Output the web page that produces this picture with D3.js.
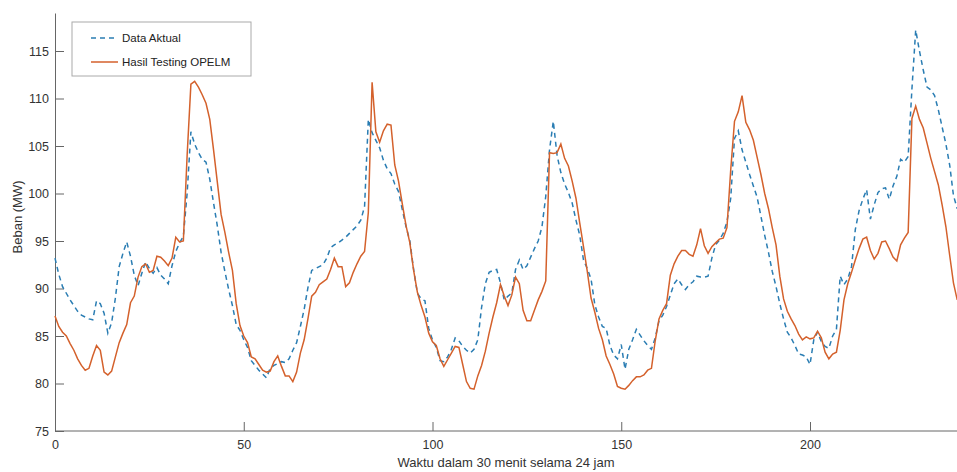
<!DOCTYPE html>
<html>
<head>
<meta charset="utf-8">
<script src="https://cdn.jsdelivr.net/npm/d3@7"></script>
<style>
  body { margin: 0; background: #fff; }
  text { font-family: "Liberation Sans", Arial, sans-serif; }
</style>
</head>
<body>
<div id="chart"></div>
<script>
// data aktual (beban, MW), satu nilai per 30 menit
const aktual = [
  93.2, 91.5, 90.2, 89.5, 88.8, 88.2, 87.6, 87.2, 87.0, 86.8,
  86.7, 88.7, 88.4, 87.4, 85.3, 86.4, 89.0, 92.3, 93.7, 94.9,
  93.4, 91.4, 90.3, 91.6, 92.8, 92.1, 91.6, 92.2, 91.4, 91.0,
  90.5, 92.4, 93.9, 94.8, 95.5, 100.0, 106.5, 105.2, 104.3, 103.6,
  103.3, 101.5, 99.0, 96.6, 93.8, 91.8, 89.9, 88.2, 86.2, 85.6,
  84.6, 83.8, 82.4, 81.9, 81.4, 81.0, 80.6, 81.6, 81.9, 82.1,
  82.3, 82.2, 82.6, 83.5, 84.3, 86.0, 87.8, 90.1, 91.9, 92.1,
  92.3, 92.5, 93.2, 94.3, 94.6, 94.8, 95.1, 95.4, 95.8, 96.2,
  96.6, 97.2, 98.6, 107.8, 106.4, 105.6, 104.8, 103.5, 102.6, 102.1,
  101.0, 100.2, 98.3, 96.5, 95.0, 92.0, 89.5, 88.9, 88.7, 85.8,
  84.6, 83.8, 82.4, 82.3, 82.8, 83.6, 84.8, 84.5, 83.9, 83.5,
  83.2, 83.6, 84.6, 88.0, 90.5, 91.7, 91.9, 92.0, 90.6, 88.8,
  89.2, 89.5, 92.0, 93.0, 92.0, 92.4, 93.3, 94.2, 95.0, 96.5,
  99.7, 104.6, 107.6, 104.0, 102.2, 101.0, 100.1, 99.0, 97.2, 95.6,
  93.0, 92.1, 91.0, 88.3, 87.0, 86.0, 85.8, 84.0, 83.0, 82.6,
  84.1, 81.5, 83.6, 84.6, 85.7, 85.1, 84.5, 84.0, 83.6, 84.8,
  86.6, 87.2, 88.1, 89.3, 90.5, 91.0, 90.4, 89.9, 90.4, 90.7,
  91.3, 91.2, 91.2, 91.3, 93.2, 94.6, 95.1, 95.8, 97.0, 99.5,
  105.8, 106.6, 104.6, 103.3, 102.0, 100.8, 99.6, 97.6, 95.6, 93.8,
  91.8, 90.2, 88.4, 86.8, 85.4, 84.8, 84.0, 83.1, 83.0, 82.8,
  82.0, 84.6, 85.4, 84.4, 83.9, 83.7, 85.0, 85.7, 91.3, 90.4,
  91.0, 92.3, 96.2, 98.2, 99.4, 100.4, 97.3, 98.8, 100.1, 100.5,
  100.6, 99.4, 100.8, 101.8, 103.6, 103.3, 103.9, 111.0, 117.2, 115.0,
  113.0, 111.2, 110.9, 110.3, 108.8, 107.0, 105.2, 103.0, 99.8, 98.4
];

// hasil testing OPELM
const opelm = [
  87.1, 86.0, 85.4, 85.0, 84.2, 83.5, 82.6, 81.9, 81.4, 81.6,
  82.9, 84.0, 83.5, 81.2, 80.9, 81.3, 82.8, 84.3, 85.3, 86.2,
  88.5, 89.2, 91.2, 92.3, 92.6, 91.7, 91.9, 93.4, 93.3, 92.9,
  92.4, 93.2, 95.4, 94.9, 95.0, 104.0, 111.5, 111.8, 111.2, 110.4,
  109.5, 107.8, 104.6, 101.2, 97.8, 95.9, 93.8, 91.9, 88.4, 86.1,
  85.0, 84.3, 82.8, 82.6, 82.0, 81.4, 81.2, 81.3, 82.3, 82.9,
  81.8, 80.8, 80.8, 80.2, 81.2, 83.2, 84.6, 86.8, 89.2, 89.6,
  90.4, 90.7, 91.0, 92.0, 93.2, 92.3, 92.3, 90.2, 90.6, 91.7,
  92.6, 93.4, 93.9, 98.0, 111.7, 106.5, 105.4, 106.6, 107.3, 107.2,
  103.0, 101.3, 98.9, 96.6, 94.8, 91.9, 89.6, 88.2, 87.0, 85.3,
  84.4, 84.0, 82.6, 81.8, 82.5, 83.2, 83.9, 83.8, 82.0, 80.2,
  79.5, 79.4, 80.8, 81.9, 83.4, 85.3, 87.0, 88.5, 90.4, 89.2,
  88.2, 89.3, 91.2, 90.5, 87.7, 86.6, 86.6, 87.7, 88.8, 89.7,
  90.8, 104.3, 104.2, 104.3, 105.2, 103.7, 102.9, 101.3, 99.5, 96.9,
  94.4, 91.8, 89.0, 87.5, 85.8, 84.6, 82.9, 82.0, 81.0, 79.7,
  79.5, 79.4, 79.8, 80.3, 80.7, 80.7, 80.9, 81.4, 81.6, 84.5,
  86.8, 87.7, 88.4, 91.4, 92.6, 93.4, 94.0, 94.0, 93.6, 93.4,
  94.6, 96.3, 94.5, 93.7, 94.4, 94.8, 95.2, 95.3, 96.4, 102.5,
  107.6, 108.6, 110.3, 107.5, 106.7, 105.6, 103.8, 102.0, 100.0, 98.4,
  96.4, 94.6, 91.3, 88.9, 87.6, 86.8, 86.1, 85.2, 84.6, 84.9,
  84.7, 84.8, 85.5, 84.8, 83.3, 82.6, 83.1, 83.3, 85.6, 88.8,
  90.5, 91.7, 93.0, 94.2, 95.2, 95.4, 94.0, 93.1, 93.7, 94.9,
  95.0, 94.2, 93.3, 92.9, 94.6, 95.3, 95.9, 107.9, 109.2, 107.8,
  106.9, 105.3, 103.7, 102.3, 100.9, 98.8, 96.5, 93.5, 90.6, 88.8
];

const xTicks = [0, 50, 100, 150, 200];
const yTicks = [75, 80, 85, 90, 95, 100, 105, 110, 115];
const seriesNames = ["Data Aktual", "Hasil Testing OPELM"];

const width = 957, height = 472;
const warnaAktual = "#2a7db3";
const warnaOpelm = "#d4612c";

const svg = d3.select("#chart").append("svg")
  .attr("width", width)
  .attr("height", height)
  .style("background", "#fff");

const x = d3.scaleLinear().domain([0, 240]).range([55, 961]);
const y = d3.scaleLinear().domain([75, 119]).range([431, 13]);

// sumbu x
const gx = svg.append("g")
  .attr("transform", `translate(0,${y(75)})`)
  .call(d3.axisBottom(x).tickValues(xTicks).tickSizeInner(-9).tickSizeOuter(0).tickPadding(6));
gx.select(".domain").attr("stroke", "#666").attr("d", `M${x(0)},0H${width}`);
gx.selectAll(".tick line").attr("stroke", "#666");
gx.selectAll(".tick text")
  .attr("y", 9)
  .attr("fill", "#333")
  .style("font-size", "12.5px");

// sumbu y
const gy = svg.append("g")
  .attr("transform", `translate(${x(0)},0)`)
  .call(d3.axisLeft(y).tickValues(yTicks).tickSizeInner(-9).tickSizeOuter(0).tickPadding(6));
gy.select(".domain").attr("stroke", "#666");
gy.selectAll(".tick line").attr("stroke", "#666");
gy.selectAll(".tick text")
  .attr("x", -6)
  .attr("fill", "#333")
  .style("font-size", "12.5px");

// label sumbu
svg.append("text")
  .attr("x", 506)
  .attr("y", 467)
  .attr("text-anchor", "middle")
  .attr("fill", "#333")
  .style("font-size", "13px")
  .text("Waktu dalam 30 menit selama 24 jam");

svg.append("text")
  .attr("transform", `translate(22,${(y(75) + y(119)) / 2 - 5}) rotate(-90)`)
  .attr("text-anchor", "middle")
  .attr("fill", "#333")
  .style("font-size", "13px")
  .text("Beban (MW)");

// garis
const line = d3.line()
  .x((d, i) => x(i))
  .y(d => y(d));

svg.append("path")
  .datum(aktual)
  .attr("fill", "none")
  .attr("stroke", warnaAktual)
  .attr("stroke-width", 1.5)
  .attr("stroke-dasharray", "5,4")
  .attr("d", line);

svg.append("path")
  .datum(opelm)
  .attr("fill", "none")
  .attr("stroke", warnaOpelm)
  .attr("stroke-width", 1.5)
  .attr("d", line);

// legenda
const legend = svg.append("g");
legend.append("rect")
  .attr("x", 72)
  .attr("y", 22)
  .attr("width", 179)
  .attr("height", 54)
  .attr("fill", "#fff")
  .attr("stroke", "#aaa");

legend.selectAll("g.item")
  .data(seriesNames)
  .join("g")
  .attr("class", "item")
  .each(function (d, i) {
    const g = d3.select(this);
    const ly = 38 + i * 24;
    g.append("line")
      .attr("x1", 91).attr("x2", 118)
      .attr("y1", ly).attr("y2", ly)
      .attr("stroke", i === 0 ? warnaAktual : warnaOpelm)
      .attr("stroke-width", 1.5)
      .attr("stroke-dasharray", i === 0 ? "5,4" : null);
    g.append("text")
      .attr("x", 122)
      .attr("y", ly + 4)
      .attr("fill", "#222")
      .style("font-size", "11.5px")
      .text(d);
  });
</script>
</body>
</html>
